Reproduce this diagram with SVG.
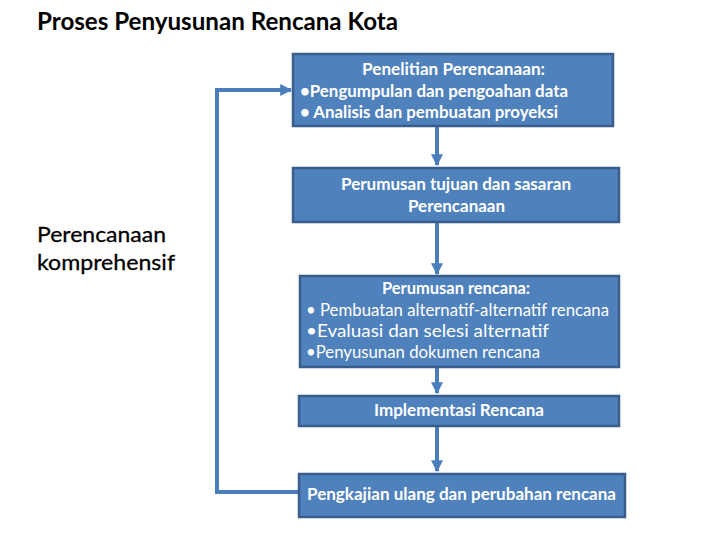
<svg xmlns="http://www.w3.org/2000/svg" width="720" height="540" viewBox="0 0 720 540">
<defs>
<style>
.box{fill:#4F81BD;stroke:#385D8A;stroke-width:2.5}
.t{font-family:Lato,"Open Sans","Liberation Sans",sans-serif;fill:#fff;font-size:17px}
.b{font-weight:bold}
.k{font-family:Lato,"Open Sans","Liberation Sans",sans-serif;fill:#000}
.c{fill:none;stroke:#4A7EBB;stroke-width:4}
</style>
<marker id="ah" viewBox="0 0 10 10" refX="9" refY="5" markerWidth="3" markerHeight="3" orient="auto" markerUnits="strokeWidth">
<path d="M0,0 L10,5 L0,10 Z" fill="#4A7EBB"/>
</marker>
</defs>
<rect width="720" height="540" fill="#fff"/>
<text class="k b" x="37" y="30" font-size="25" textLength="361" lengthAdjust="spacingAndGlyphs">Proses Penyusunan Rencana Kota</text>
<g id="label">
<text class="k" x="37" y="242" font-size="22" stroke="#000" stroke-width="0.3" textLength="129" lengthAdjust="spacingAndGlyphs">Perencanaan</text>
<text class="k" x="37" y="270" font-size="22" stroke="#000" stroke-width="0.3" textLength="138" lengthAdjust="spacingAndGlyphs">komprehensif</text>
</g>
<g id="connectors">
<line class="c" x1="437" y1="127" x2="437" y2="165" marker-end="url(#ah)"/>
<line class="c" x1="437" y1="223" x2="437" y2="274" marker-end="url(#ah)"/>
<line class="c" x1="437" y1="367" x2="437" y2="393" marker-end="url(#ah)"/>
<line class="c" x1="437" y1="427" x2="437" y2="471" marker-end="url(#ah)"/>
<path class="c" d="M299,492 H217 V90 H291" marker-end="url(#ah)"/>
</g>
<g id="n1">
<rect class="box" x="293" y="54" width="320" height="72"/>
<text class="t b" x="362" y="75" textLength="183" lengthAdjust="spacingAndGlyphs">Penelitian Perencanaan:</text>
<text class="t b" x="300" y="97" textLength="268" lengthAdjust="spacingAndGlyphs">•Pengumpulan dan pengoahan data</text>
<text class="t b" x="300" y="118" textLength="258" lengthAdjust="spacingAndGlyphs">• Analisis dan pembuatan proyeksi</text>
</g>
<g id="n2">
<rect class="box" x="293" y="168" width="326" height="54"/>
<text class="t b" x="341" y="190" textLength="230" lengthAdjust="spacingAndGlyphs">Perumusan tujuan dan sasaran</text>
<text class="t b" x="408" y="212" textLength="97" lengthAdjust="spacingAndGlyphs">Perencanaan</text>
</g>
<g id="n3">
<rect class="box" x="300" y="276" width="319" height="91"/>
<text class="t b" x="382" y="294" textLength="148" lengthAdjust="spacingAndGlyphs">Perumusan rencana:</text>
<text class="t" x="306" y="316" textLength="303" lengthAdjust="spacingAndGlyphs">• Pembuatan alternatif-alternatif rencana</text>
<text class="t" x="306" y="337" textLength="243" lengthAdjust="spacingAndGlyphs">•Evaluasi dan selesi alternatif</text>
<text class="t" x="306" y="358" textLength="234" lengthAdjust="spacingAndGlyphs">•Penyusunan dokumen rencana</text>
</g>
<g id="n4">
<rect class="box" x="299" y="396" width="320" height="30"/>
<text class="t b" x="374" y="416" textLength="170" lengthAdjust="spacingAndGlyphs">Implementasi Rencana</text>
</g>
<g id="n5">
<rect class="box" x="299" y="474" width="326" height="43"/>
<text class="t b" x="307" y="500" textLength="309" lengthAdjust="spacingAndGlyphs">Pengkajian ulang dan perubahan rencana</text>
</g>
</svg>
